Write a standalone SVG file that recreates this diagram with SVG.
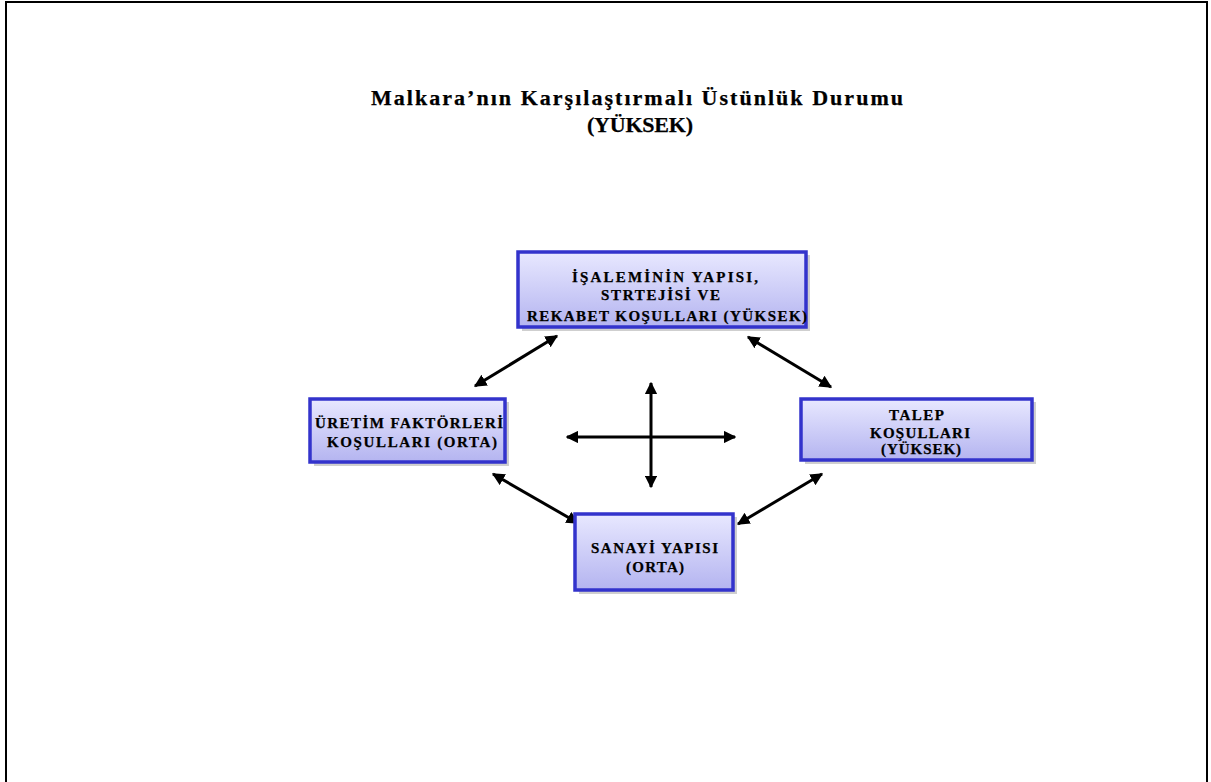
<svg xmlns="http://www.w3.org/2000/svg" width="1211" height="782" viewBox="0 0 1211 782">
<defs>
<linearGradient id="g" x1="0" y1="0" x2="0" y2="1">
<stop offset="0" stop-color="#e8e8ff"/>
<stop offset="1" stop-color="#b4b4f0"/>
</linearGradient>
<marker id="ah" viewBox="0 0 10 10" refX="9" refY="5" markerWidth="4.2" markerHeight="4.2" orient="auto-start-reverse" markerUnits="strokeWidth">
<path d="M0,0 L10,5 L0,10 z" fill="#000"/>
</marker>
</defs>
<style>
.sh{fill:#cfcfcf}
.bx{fill:url(#g);stroke:#3333cc;stroke-width:3.5}
.t{font-family:"Liberation Serif","Times New Roman",serif;font-weight:bold;fill:#000;stroke:#000;stroke-width:0.25}
.bt{font-size:15px}
.ti{font-size:22px}
.c{stroke:#000;stroke-width:3;fill:none;marker-start:url(#ah);marker-end:url(#ah)}
</style>
<rect x="0" y="0" width="1211" height="782" fill="#fff"/>
<path d="M6,790 V2 H1207 V790" fill="none" stroke="#000" stroke-width="2"/>
<g id="title">
<text class="t ti" x="371" y="105" textLength="532" lengthAdjust="spacing">Malkara’nın  Karşılaştırmalı Üstünlük   Durumu</text>
<text class="t ti" x="587" y="132" textLength="106" lengthAdjust="spacing">(YÜKSEK)</text>
</g>
<g id="connectors">
<line class="c" x1="475" y1="386" x2="557" y2="336"/>
<line class="c" x1="748" y1="337" x2="831" y2="387"/>
<line class="c" x1="493" y1="474" x2="578" y2="523"/>
<line class="c" x1="738" y1="524" x2="822" y2="474"/>
<line class="c" x1="567" y1="437" x2="735" y2="437"/>
<line class="c" x1="651" y1="383" x2="651" y2="487"/>
</g>
<g id="node-isalemi">
<rect class="sh" x="522" y="255" width="288" height="76"/>
<rect class="bx" x="518" y="252" width="288" height="75"/>
<text class="t bt" x="572" y="282" textLength="186" lengthAdjust="spacing">İŞALEMİNİN YAPISI,</text>
<text class="t bt" x="601" y="300" textLength="119" lengthAdjust="spacing">STRTEJİSİ VE</text>
<text class="t bt" x="527" y="321" textLength="280" lengthAdjust="spacing">REKABET KOŞULLARI (YÜKSEK)</text>
</g>
<g id="node-uretim">
<rect class="sh" x="314" y="402" width="195" height="64"/>
<rect class="bx" x="310" y="399" width="195" height="63"/>
<text class="t bt" x="315" y="428" textLength="188" lengthAdjust="spacing">ÜRETİM FAKTÖRLERİ</text>
<text class="t bt" x="327" y="447" textLength="170" lengthAdjust="spacing">KOŞULLARI (ORTA)</text>
</g>
<g id="node-talep">
<rect class="sh" x="805" y="402" width="231" height="62"/>
<rect class="bx" x="801" y="399" width="231" height="61"/>
<text class="t bt" x="889" y="420" textLength="55" lengthAdjust="spacing">TALEP</text>
<text class="t bt" x="870" y="438" textLength="100" lengthAdjust="spacing">KOŞULLARI</text>
<text class="t bt" x="881" y="454" textLength="80" lengthAdjust="spacing">(YÜKSEK)</text>
</g>
<g id="node-sanayi">
<rect class="sh" x="579" y="517" width="158" height="77"/>
<rect class="bx" x="575" y="514" width="158" height="76"/>
<text class="t bt" x="591" y="553" textLength="127" lengthAdjust="spacing">SANAYİ YAPISI</text>
<text class="t bt" x="626" y="572" textLength="58" lengthAdjust="spacing">(ORTA)</text>
</g>
</svg>
